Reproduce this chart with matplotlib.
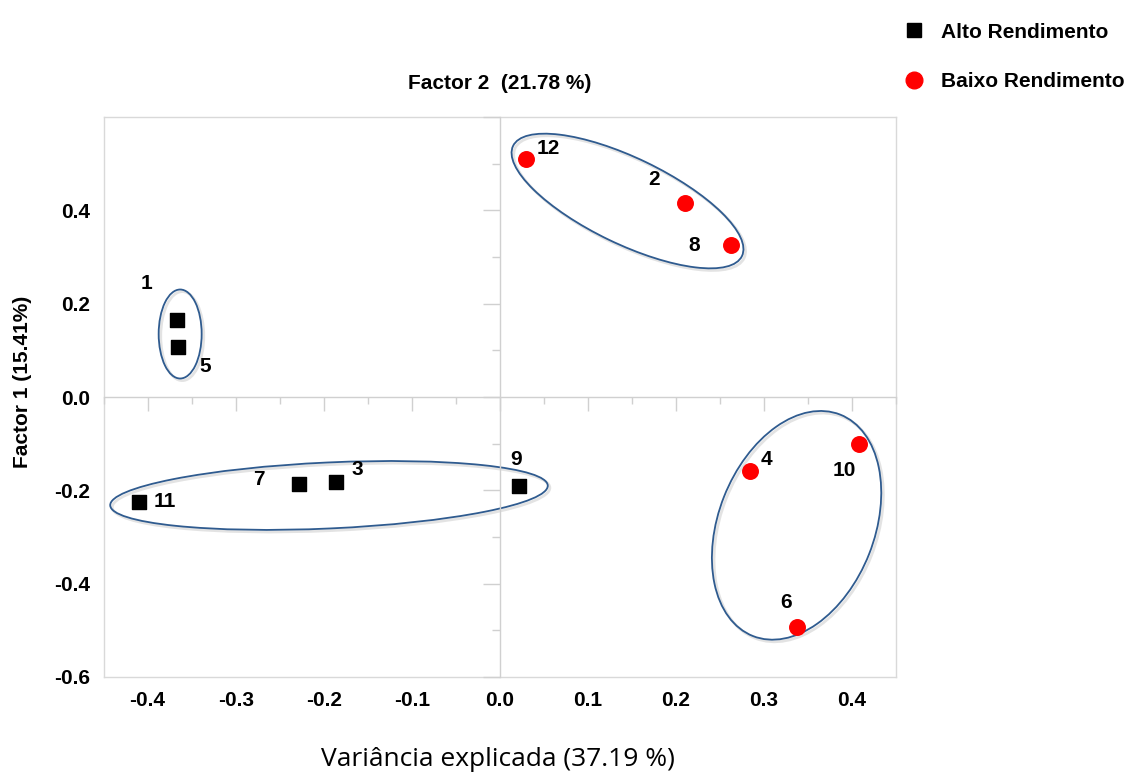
import matplotlib
matplotlib.use('Agg')
import matplotlib.pyplot as plt
from matplotlib.patches import Ellipse
from matplotlib.lines import Line2D
from matplotlib.ticker import MultipleLocator
from matplotlib.transforms import ScaledTranslation

plt.rcParams['font.family'] = ['Liberation Sans', 'DejaVu Sans']

# Alto rendimento (squares)
alto_ids = ['1', '5', '11', '7', '3', '9']
alto_x = [-0.367, -0.366, -0.410, -0.228, -0.186, 0.022]
alto_y = [0.166, 0.108, -0.226, -0.186, -0.182, -0.190]

# Baixo rendimento (circles)
baixo_ids = ['12', '2', '8', '4', '10', '6']
baixo_x = [0.030, 0.210, 0.262, 0.284, 0.408, 0.338]
baixo_y = [0.509, 0.415, 0.325, -0.158, -0.100, -0.492]

x_ticks = [-0.4, -0.3, -0.2, -0.1, 0.0, 0.1, 0.2, 0.3, 0.4]
y_ticks = [-0.6, -0.4, -0.2, 0.0, 0.2, 0.4]

# label offsets in points (dx, dy)
label_offsets = {
    '1': (-22, 26), '5': (20, -14), '12': (16, 8), '2': (-22, 17),
    '8': (-26, 0), '11': (19, 1), '7': (-29, 3), '3': (15, 9),
    '9': (-2, 19), '4': (12, 8), '10': (-11, -19), '6': (-8, 17),
}

# group ellipses: center (data), width/height (inches), angle (deg)
groups = [
    ((-0.363, 0.135), 0.43, 0.89, 0),
    ((0.145, 0.420), 2.54, 0.86, -25.7),
    ((-0.194, -0.211), 4.38, 0.66, 2.6),
    ((0.337, -0.275), 2.38, 1.56, 68.5),
]

fig = plt.figure(figsize=(11.28, 7.76), dpi=100)
ax = fig.add_axes([0.0918, 0.1276, 0.7026, 0.7216])
ax.set_xlim(-0.45, 0.45)
ax.set_ylim(-0.6, 0.6)

for s in ax.spines.values():
    s.set_color('#d9d9d9')
    s.set_linewidth(1.0)

ax.set_xticks(x_ticks)
ax.set_xticklabels(['%.1f' % v for v in x_ticks])
ax.set_yticks(y_ticks)
ax.set_yticklabels(['%.1f' % v for v in y_ticks])
ax.tick_params(length=0, labelsize=15, pad=10)
for lab in ax.get_xticklabels() + ax.get_yticklabels():
    lab.set_fontweight('bold')

# overlay axes for the zero lines with their ticks
ax2 = fig.add_axes(ax.get_position())
ax2.set_xlim(-0.45, 0.45)
ax2.set_ylim(-0.6, 0.6)
ax2.patch.set_visible(False)
ax2.spines['top'].set_visible(False)
ax2.spines['right'].set_visible(False)
ax2.spines['left'].set_position(('data', 0))
ax2.spines['bottom'].set_position(('data', 0))
for side in ['left', 'bottom']:
    ax2.spines[side].set_color('#d0d0d0')
    ax2.spines[side].set_linewidth(1.0)
ax2.xaxis.set_major_locator(MultipleLocator(0.1))
ax2.xaxis.set_minor_locator(MultipleLocator(0.05))
ax2.yaxis.set_major_locator(MultipleLocator(0.2))
ax2.yaxis.set_minor_locator(MultipleLocator(0.1))
ax2.tick_params(which='both', direction='out', colors='#d0d0d0',
                labelbottom=False, labelleft=False, width=1.0)
ax2.tick_params(axis='x', which='major', length=10)
ax2.tick_params(axis='x', which='minor', length=5)
ax2.tick_params(axis='y', which='major', length=12)
ax2.tick_params(axis='y', which='minor', length=6)

# ellipses (with a faint shadow)
for (cx, cy), w, h, ang in groups:
    shadow = fig.dpi_scale_trans + ScaledTranslation(cx, cy, ax2.transData) \
        + ScaledTranslation(1.5 / 72, -1.5 / 72, fig.dpi_scale_trans)
    ax2.add_patch(Ellipse((0, 0), w, h, angle=ang, fill=False,
                          edgecolor='#b0b0b0', linewidth=2.0, alpha=0.35,
                          transform=shadow))
    trans = fig.dpi_scale_trans + ScaledTranslation(cx, cy, ax2.transData)
    ax2.add_patch(Ellipse((0, 0), w, h, angle=ang, fill=False,
                          edgecolor='#2f5b8f', linewidth=1.3, transform=trans))

ax2.scatter(alto_x, alto_y, marker='s', s=95, color='black', zorder=5)
ax2.scatter(baixo_x, baixo_y, marker='o', s=125, color='#ff0000', zorder=5)

for ids, xs, ys in [(alto_ids, alto_x, alto_y), (baixo_ids, baixo_x, baixo_y)]:
    for i, x, y in zip(ids, xs, ys):
        ax2.annotate(i, (x, y), xytext=label_offsets[i], textcoords='offset points',
                     ha='center', va='center', fontsize=15, fontweight='bold')

ax.set_title('Factor 2  (21.78 %)', fontsize=15, fontweight='bold', pad=20)
ax.set_ylabel('Factor 1 (15.41%)', fontsize=15, fontweight='bold')
ax.yaxis.set_label_coords(-0.09, 0.527)
ax.set_xlabel('Variância explicada (37.19 %)', fontsize=19, family='Open Sans')
ax.xaxis.set_label_coords(0.498, -0.125)

handles = [
    Line2D([], [], marker='s', color='black', linestyle='none', markersize=10),
    Line2D([], [], marker='o', color='#ff0000', linestyle='none', markersize=12),
]
fig.legend(handles, ['Alto Rendimento', 'Baixo Rendimento'], loc='upper left',
           bbox_to_anchor=(0.775, 0.995), frameon=False, labelspacing=1.45,
           prop={'weight': 'bold', 'size': 15}, handletextpad=0.3)

fig.savefig('out.png', dpi=100)
